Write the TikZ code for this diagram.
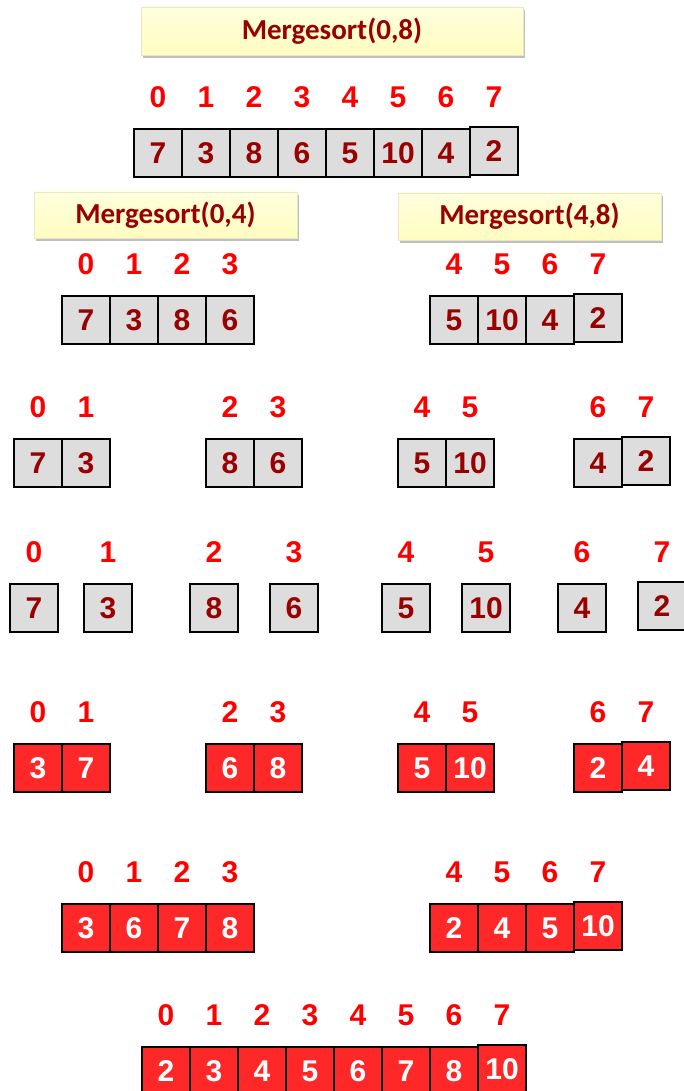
\documentclass[tikz,border=0pt]{standalone}
\usepackage{fontspec}
\newfontfamily\numfont{Liberation Sans}
\newfontfamily\callfont{Carlito}
\usetikzlibrary{shadows}
\definecolor{idxred}{RGB}{255,0,0}
\definecolor{valred}{RGB}{153,0,0}
\definecolor{cellgray}{RGB}{221,221,221}
\definecolor{cellred}{RGB}{255,40,40}
\definecolor{calltop}{RGB}{255,255,222}
\definecolor{callbot}{RGB}{255,252,192}
\definecolor{callrule}{RGB}{232,232,200}
% one run of cells: name, left x, top y, style, {index/value/raise,...}
\newcommand{\arr}[5]{%
  \foreach \ix/\val/\dy [count=\k from 0] in {#5} {
    \node[#4,yshift=\dy pt] (#1-\k) at ({#2+24+48*\k},{#3+24}) {\val};
    \node[idx] (#1-i\k) at ({#2+24+48*\k},{#3-32}) {\ix};
  }}

\begin{document}
\begin{tikzpicture}[x=1pt,y=-1pt,
  cell/.style={draw=black,line width=1.5pt,minimum size=48pt,inner sep=0pt,
               font=\numfont\bfseries\fontsize{30}{30}\selectfont},
  split/.style={cell,fill=cellgray,text=valred},
  merged/.style={cell,fill=cellred,text=white},
  idx/.style={text=idxred,inner sep=0pt,
              font=\numfont\bfseries\fontsize{30}{30}\selectfont},
  call/.style={draw=callrule,line width=0.6pt,top color=calltop,bottom color=callbot,
               text=valred,inner sep=0pt,font=\callfont\bfseries\fontsize{29}{29}\selectfont,
               drop shadow={shadow xshift=2pt,shadow yshift=-3pt,opacity=0.25,fill=black}}]
  \useasboundingbox (0,0) rectangle (683,1091);
  % calls
  \node[call,minimum width=382pt,minimum height=48pt](ms08) at (332,31) {Mergesort(0,8)};
  \node[call,minimum width=263pt,minimum height=46pt](ms04) at (165.5,215) {Mergesort(0,4)};
  \node[call,minimum width=263pt,minimum height=47pt](ms48) at (529.5,216.5) {Mergesort(4,8)};
  % splitting
  \arr{full}{134}{129}{split}{0/7/0,1/3/0,2/8/0,3/6/0,4/5/0,5/10/0,6/4/0,7/2/2}
  \arr{lo}{62}{296}{split}{0/7/0,1/3/0,2/8/0,3/6/0}
  \arr{hi}{430}{296}{split}{4/5/0,5/10/0,6/4/0,7/2/2}
  \arr{qa}{14}{439}{split}{0/7/0,1/3/0}
  \arr{qb}{206}{439}{split}{2/8/0,3/6/0}
  \arr{qc}{398}{439}{split}{4/5/0,5/10/0}
  \arr{qd}{574}{439}{split}{6/4/0,7/2/2}
  \arr{sa}{10}{584}{split}{0/7/0}
  \arr{sb}{84}{584}{split}{1/3/0}
  \arr{sc}{190}{584}{split}{2/8/0}
  \arr{sd}{270}{584}{split}{3/6/0}
  \arr{se}{382}{584}{split}{4/5/0}
  \arr{sf}{462}{584}{split}{5/10/0}
  \arr{sg}{558}{584}{split}{6/4/0}
  \arr{sh}{638}{584}{split}{7/2/2}
  % merging
  \arr{ma}{14}{744}{merged}{0/3/0,1/7/0}
  \arr{mb}{206}{744}{merged}{2/6/0,3/8/0}
  \arr{mc}{398}{744}{merged}{4/5/0,5/10/0}
  \arr{md}{574}{744}{merged}{6/2/0,7/4/2}
  \arr{mlo}{62}{904}{merged}{0/3/0,1/6/0,2/7/0,3/8/0}
  \arr{mhi}{430}{904}{merged}{4/2/0,5/4/0,6/5/0,7/10/2}
  \arr{done}{142}{1047}{merged}{0/2/0,1/3/0,2/4/0,3/5/0,4/6/0,5/7/0,6/8/0,7/10/2}
\end{tikzpicture}
\end{document}
